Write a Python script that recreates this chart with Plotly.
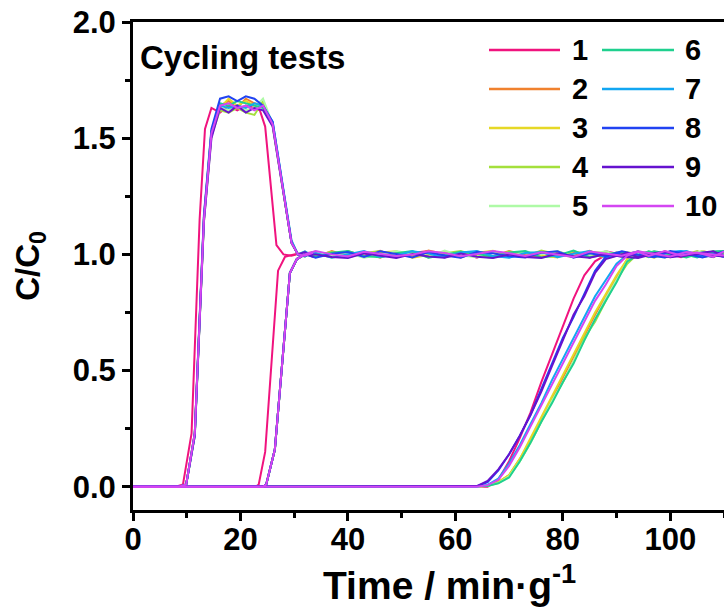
import plotly.graph_objects as go

# ---------------- data ----------------
SERIES = ["1", "2", "3", "4", "5", "6", "7", "8", "9", "10"]
COLORS = ["#F0137E", "#F0812E", "#E6D826", "#A4E03C", "#AEFAA6",
          "#1FD08E", "#12A6F2", "#2143F2", "#6512CF", "#D446F2"]

# first component (overshoot peak) - cycle 1 runs on its own time base
TA_1 = [0, 8.0, 9.3, 10.9, 12.4, 13.4, 14.6, 16.2, 17.8, 19.4, 21.0, 22.6,
        23.6, 24.6, 26.7, 28.0, 29.5, 31.0]
CA_1 = [0, 0, 0.01, 0.23, 1.15, 1.54, 1.63, 1.61, 1.64, 1.62, 1.64, 1.63,
        1.62, 1.55, 1.04, 1.00, 0.994, 1.004]
TA = [0, 8.6, 9.9, 11.5, 13.2, 14.6, 16.2, 17.8, 19.4, 21.0, 22.6, 24.2,
      26.0, 29.5, 30.7, 32.0, 33.5]
CA_2 = [0, 0, 0.01, 0.23, 1.16, 1.53, 1.64, 1.66, 1.63, 1.67, 1.65, 1.64, 1.56, 1.05, 1.00, 0.992, 1.010]
CA_3 = [0, 0, 0.01, 0.22, 1.15, 1.52, 1.63, 1.67, 1.64, 1.66, 1.64, 1.65, 1.56, 1.05, 1.00, 1.012, 0.990]
CA_4 = [0, 0, 0.01, 0.23, 1.14, 1.51, 1.62, 1.61, 1.63, 1.61, 1.60, 1.66, 1.55, 1.05, 1.00, 0.994, 1.008]
CA_5 = [0, 0, 0.01, 0.22, 1.15, 1.52, 1.63, 1.62, 1.64, 1.62, 1.63, 1.67, 1.56, 1.06, 1.00, 1.009, 0.991]
CA_6 = [0, 0, 0.01, 0.23, 1.16, 1.53, 1.65, 1.64, 1.66, 1.65, 1.64, 1.63, 1.56, 1.05, 1.00, 0.990, 1.011]
CA_7 = [0, 0, 0.01, 0.22, 1.15, 1.52, 1.64, 1.63, 1.64, 1.63, 1.65, 1.64, 1.57, 1.06, 1.00, 1.013, 0.993]
CA_8 = [0, 0, 0.01, 0.23, 1.17, 1.54, 1.67, 1.68, 1.66, 1.68, 1.67, 1.64, 1.57, 1.05, 1.00, 0.992, 1.009]
CA_9 = [0, 0, 0.01, 0.22, 1.14, 1.50, 1.63, 1.61, 1.64, 1.61, 1.63, 1.62, 1.55, 1.05, 1.00, 1.010, 0.989]
CA_10 = [0, 0, 0.01, 0.23, 1.15, 1.52, 1.64, 1.65, 1.63, 1.64, 1.62, 1.64, 1.56, 1.05, 1.00, 0.994, 1.007]

# second component (plain breakthrough)
TB_1 = [0, 22.8, 23.4, 24.6, 27.0, 28.3, 30.0]
CB_1 = [0, 0, 0.01, 0.15, 0.93, 0.99, 1.0]
TB = [0, 24.2, 24.8, 26.4, 29.2, 30.5, 32.0]
CB = [0, 0, 0.01, 0.16, 0.92, 0.98, 1.0]
# shared plateau sampling after breakthrough
TP = [34, 37, 40, 43, 46, 49, 52, 55, 58, 61, 64, 67, 70, 73, 76, 79, 82, 85, 88, 91, 94, 97, 100, 103, 106, 110]
PB_1 = [1.010, 0.989, 1.013, 0.994, 1.015, 0.987, 1.006, 1.014, 0.990, 1.009, 0.986, 1.012, 1.003, 0.988, 1.014, 0.993, 1.008, 0.986, 1.013, 0.998, 1.011, 0.989, 1.007, 0.992, 1.012, 1.000]
PB_2 = [0.988, 1.014, 0.993, 1.011, 0.986, 1.010, 0.991, 1.016, 1.000, 0.987, 1.013, 0.992, 1.014, 0.997, 0.988, 1.012, 0.993, 1.015, 0.990, 1.005, 0.987, 1.012, 0.995, 1.013, 0.989, 1.004]
PB_3 = [1.003, 0.987, 1.014, 0.990, 1.008, 1.013, 0.986, 0.997, 1.012, 0.988, 1.007, 1.016, 0.990, 1.010, 0.995, 0.987, 1.013, 0.999, 0.988, 1.010, 1.004, 0.986, 1.011, 0.994, 1.014, 0.991]
PB_4 = [0.995, 1.011, 0.987, 1.006, 1.014, 0.990, 1.010, 0.987, 1.005, 1.014, 0.993, 0.986, 1.012, 0.991, 1.016, 1.001, 0.988, 1.010, 1.006, 0.991, 1.013, 0.996, 0.988, 1.009, 0.993, 1.012]
PB_5 = [1.013, 0.991, 1.005, 0.986, 0.997, 1.014, 1.003, 0.989, 1.016, 0.995, 0.988, 1.008, 0.987, 1.013, 1.001, 1.014, 0.990, 0.996, 1.014, 0.988, 1.006, 1.012, 0.991, 0.998, 1.013, 0.990]
PB_6 = [0.990, 1.007, 1.015, 0.993, 0.988, 1.005, 1.014, 0.986, 0.997, 1.011, 1.003, 0.990, 1.008, 1.014, 0.987, 0.995, 1.016, 0.988, 0.999, 1.011, 0.989, 1.013, 1.002, 0.987, 1.008, 1.014]
PB_7 = [1.006, 0.986, 0.999, 1.014, 0.990, 0.995, 1.013, 1.004, 0.987, 1.008, 1.014, 0.993, 0.986, 1.006, 1.010, 0.988, 1.003, 1.014, 0.987, 0.997, 1.012, 0.990, 1.009, 1.015, 0.991, 0.996]
PB_8 = [0.986, 1.003, 1.010, 0.989, 1.013, 1.002, 0.987, 1.010, 0.995, 0.986, 1.010, 1.005, 0.992, 0.987, 1.007, 1.013, 0.986, 1.005, 0.993, 1.013, 0.998, 0.988, 1.014, 1.003, 0.987, 1.012]
PB_9 = [1.000, 0.989, 0.985, 1.005, 0.993, 0.984, 1.002, 0.991, 0.986, 1.004, 0.990, 0.984, 0.999, 0.989, 0.985, 1.004, 0.992, 0.986, 1.002, 0.990, 0.985, 1.003, 0.988, 0.996, 1.004, 0.990]
PB_10 = [1.014, 1.000, 0.991, 1.011, 1.003, 0.993, 0.999, 1.013, 1.006, 0.992, 1.002, 1.015, 1.005, 0.993, 1.009, 1.000, 0.989, 1.012, 1.003, 0.994, 1.013, 1.001, 0.991, 1.010, 1.004, 0.995]

# third component (late breakthrough)
TC = [0, 62, 64, 66, 68, 70, 72, 74, 76, 78, 80, 82, 84, 86, 88, 90, 92, 94, 96, 99, 102, 105, 108, 110]
CC_1 = [0, 0, 0, 0, 0.03, 0.11, 0.21, 0.32, 0.45, 0.57, 0.69, 0.81, 0.91, 0.97, 0.998, 1.008, 0.991, 1.012, 0.993, 1.009, 0.988, 1.011, 0.996, 1.006]
CC_2 = [0, 0, 0, 0.005, 0.02, 0.05, 0.12, 0.20, 0.29, 0.38, 0.47, 0.56, 0.65, 0.74, 0.82, 0.90, 0.98, 1.006, 0.989, 1.013, 0.995, 1.008, 0.988, 1.011]
CC_3 = [0, 0, 0, 0.005, 0.02, 0.05, 0.12, 0.21, 0.30, 0.39, 0.48, 0.57, 0.66, 0.75, 0.83, 0.91, 0.98, 0.993, 1.012, 0.988, 1.009, 0.996, 1.013, 0.991]
CC_4 = [0, 0, 0, 0.004, 0.017, 0.045, 0.11, 0.19, 0.28, 0.37, 0.45, 0.54, 0.64, 0.71, 0.80, 0.89, 0.96, 1.004, 0.988, 1.010, 0.993, 1.014, 0.989, 1.007]
CC_5 = [0, 0, 0, 0.004, 0.016, 0.045, 0.11, 0.19, 0.28, 0.37, 0.45, 0.54, 0.63, 0.72, 0.81, 0.89, 0.97, 1.009, 0.995, 0.987, 1.011, 0.991, 1.006, 0.996]
CC_6 = [0, 0, 0, 0.003, 0.015, 0.04, 0.11, 0.19, 0.28, 0.36, 0.45, 0.53, 0.63, 0.72, 0.80, 0.88, 0.97, 0.997, 1.013, 0.993, 1.004, 0.987, 1.012, 1.015]
CC_7 = [0, 0, 0, 0.008, 0.035, 0.10, 0.18, 0.27, 0.36, 0.46, 0.55, 0.64, 0.73, 0.82, 0.89, 0.96, 0.998, 1.010, 0.990, 1.007, 1.014, 0.991, 1.004, 0.988]
CC_8 = [0, 0, 0.002, 0.02, 0.07, 0.14, 0.22, 0.31, 0.42, 0.53, 0.64, 0.73, 0.83, 0.93, 0.99, 1.006, 0.990, 1.012, 0.996, 0.987, 1.009, 1.002, 0.989, 1.011]
CC_9 = [0, 0, 0.003, 0.025, 0.075, 0.14, 0.22, 0.31, 0.41, 0.52, 0.63, 0.74, 0.82, 0.92, 0.98, 0.995, 1.007, 0.988, 1.002, 1.011, 0.991, 1.005, 1.013, 0.993]
CC_10 = [0, 0, 0, 0.007, 0.03, 0.09, 0.17, 0.26, 0.35, 0.44, 0.53, 0.62, 0.71, 0.80, 0.87, 0.95, 0.995, 1.011, 0.993, 1.014, 0.995, 1.008, 0.989, 1.013]

# -------------- assemble per-cycle curves --------------
A_T = [TA_1] + [TA] * 9
A_C = [CA_1, CA_2, CA_3, CA_4, CA_5, CA_6, CA_7, CA_8, CA_9, CA_10]
B_T = [TB_1 + TP] + [TB + TP] * 9
B_PLAT = [PB_1, PB_2, PB_3, PB_4, PB_5, PB_6, PB_7, PB_8, PB_9, PB_10]
B_C = [(CB_1 if i == 0 else CB) + B_PLAT[i] for i in range(10)]
C_C = [CC_1, CC_2, CC_3, CC_4, CC_5, CC_6, CC_7, CC_8, CC_9, CC_10]

FONT = "Liberation Sans, Arial, sans-serif"

fig = go.Figure()
for i, name in enumerate(SERIES):
    for tx, cy in ((A_T[i], A_C[i]), (B_T[i], B_C[i]), (TC, C_C[i])):
        fig.add_trace(go.Scatter(
            x=tx, y=cy, mode="lines", name=name, legendgroup=name,
            showlegend=False,
            line=dict(color=COLORS[i], width=2),
        ))

# two-column legend drawn as line samples with labels
PLOT_L, PLOT_R, PLOT_T, PLOT_B = 133, 724, 22, 510
def px_to_paper_x(px):
    return (px - PLOT_L) / (PLOT_R - PLOT_L)
def px_to_paper_y(py):
    return (PLOT_B - py) / (PLOT_B - PLOT_T)

ROWS_PX = [50, 89, 128, 167, 206]
COLS_PX = [(489, 560, 570), (602, 674, 683)]
for i, name in enumerate(SERIES):
    x0, x1, xl = COLS_PX[i // 5]
    yp = px_to_paper_y(ROWS_PX[i % 5])
    fig.add_shape(type="line", xref="paper", yref="paper",
                  x0=px_to_paper_x(x0), x1=px_to_paper_x(x1), y0=yp, y1=yp,
                  line=dict(color=COLORS[i], width=2.5))
    fig.add_annotation(xref="paper", yref="paper", x=px_to_paper_x(xl), y=yp,
                       text=name, showarrow=False, xanchor="left", yanchor="middle",
                       font=dict(family=FONT, size=29, color="black", weight="bold"))

fig.add_annotation(xref="paper", yref="paper", x=px_to_paper_x(138), y=px_to_paper_y(57),
                   text="Cycling tests", showarrow=False, xanchor="left", yanchor="middle",
                   font=dict(family=FONT, size=33, color="black", weight="bold"))

# x-axis title, centred on the full (wider) axis span
fig.add_annotation(xref="paper", yref="paper", x=px_to_paper_x(449), y=px_to_paper_y(582),
                   text="Time / min·g<sup>-1</sup>", showarrow=False,
                   xanchor="center", yanchor="middle",
                   font=dict(family=FONT, size=39, color="black", weight="bold"))

axis_common = dict(
    showgrid=False, zeroline=False, showline=True, linecolor="black", linewidth=3,
    ticks="outside", ticklen=8, tickwidth=2.5, tickcolor="black",
    tickfont=dict(family=FONT, size=31, color="black", weight="bold"),
)

fig.update_layout(
    width=724, height=610,
    margin=dict(l=PLOT_L, r=0, t=PLOT_T, b=610 - PLOT_B, pad=0),
    plot_bgcolor="white", paper_bgcolor="white",
    showlegend=False,
    xaxis=dict(
        range=[0, 110], tickvals=[0, 20, 40, 60, 80, 100], mirror=True,
        ticklabelstandoff=-8,
        minor=dict(tickvals=[10, 30, 50, 70, 90, 110], ticks="outside", ticklen=5,
                   tickwidth=2.5, tickcolor="black"),
        **axis_common,
    ),
    yaxis=dict(
        range=[-0.1, 2.0], tickvals=[0, 0.5, 1.0, 1.5, 2.0], ticktext=["0.0", "0.5", "1.0", "1.5", "2.0"],
        mirror=False,
        minor=dict(tickvals=[0.25, 0.75, 1.25, 1.75], ticks="outside", ticklen=5,
                   tickwidth=2.5, tickcolor="black"),
        title=dict(text="C/C<sub>0</sub>", standoff=24,
                   font=dict(family=FONT, size=33, color="black", weight="bold")),
        **axis_common,
    ),
)

fig.write_html("out.html")
